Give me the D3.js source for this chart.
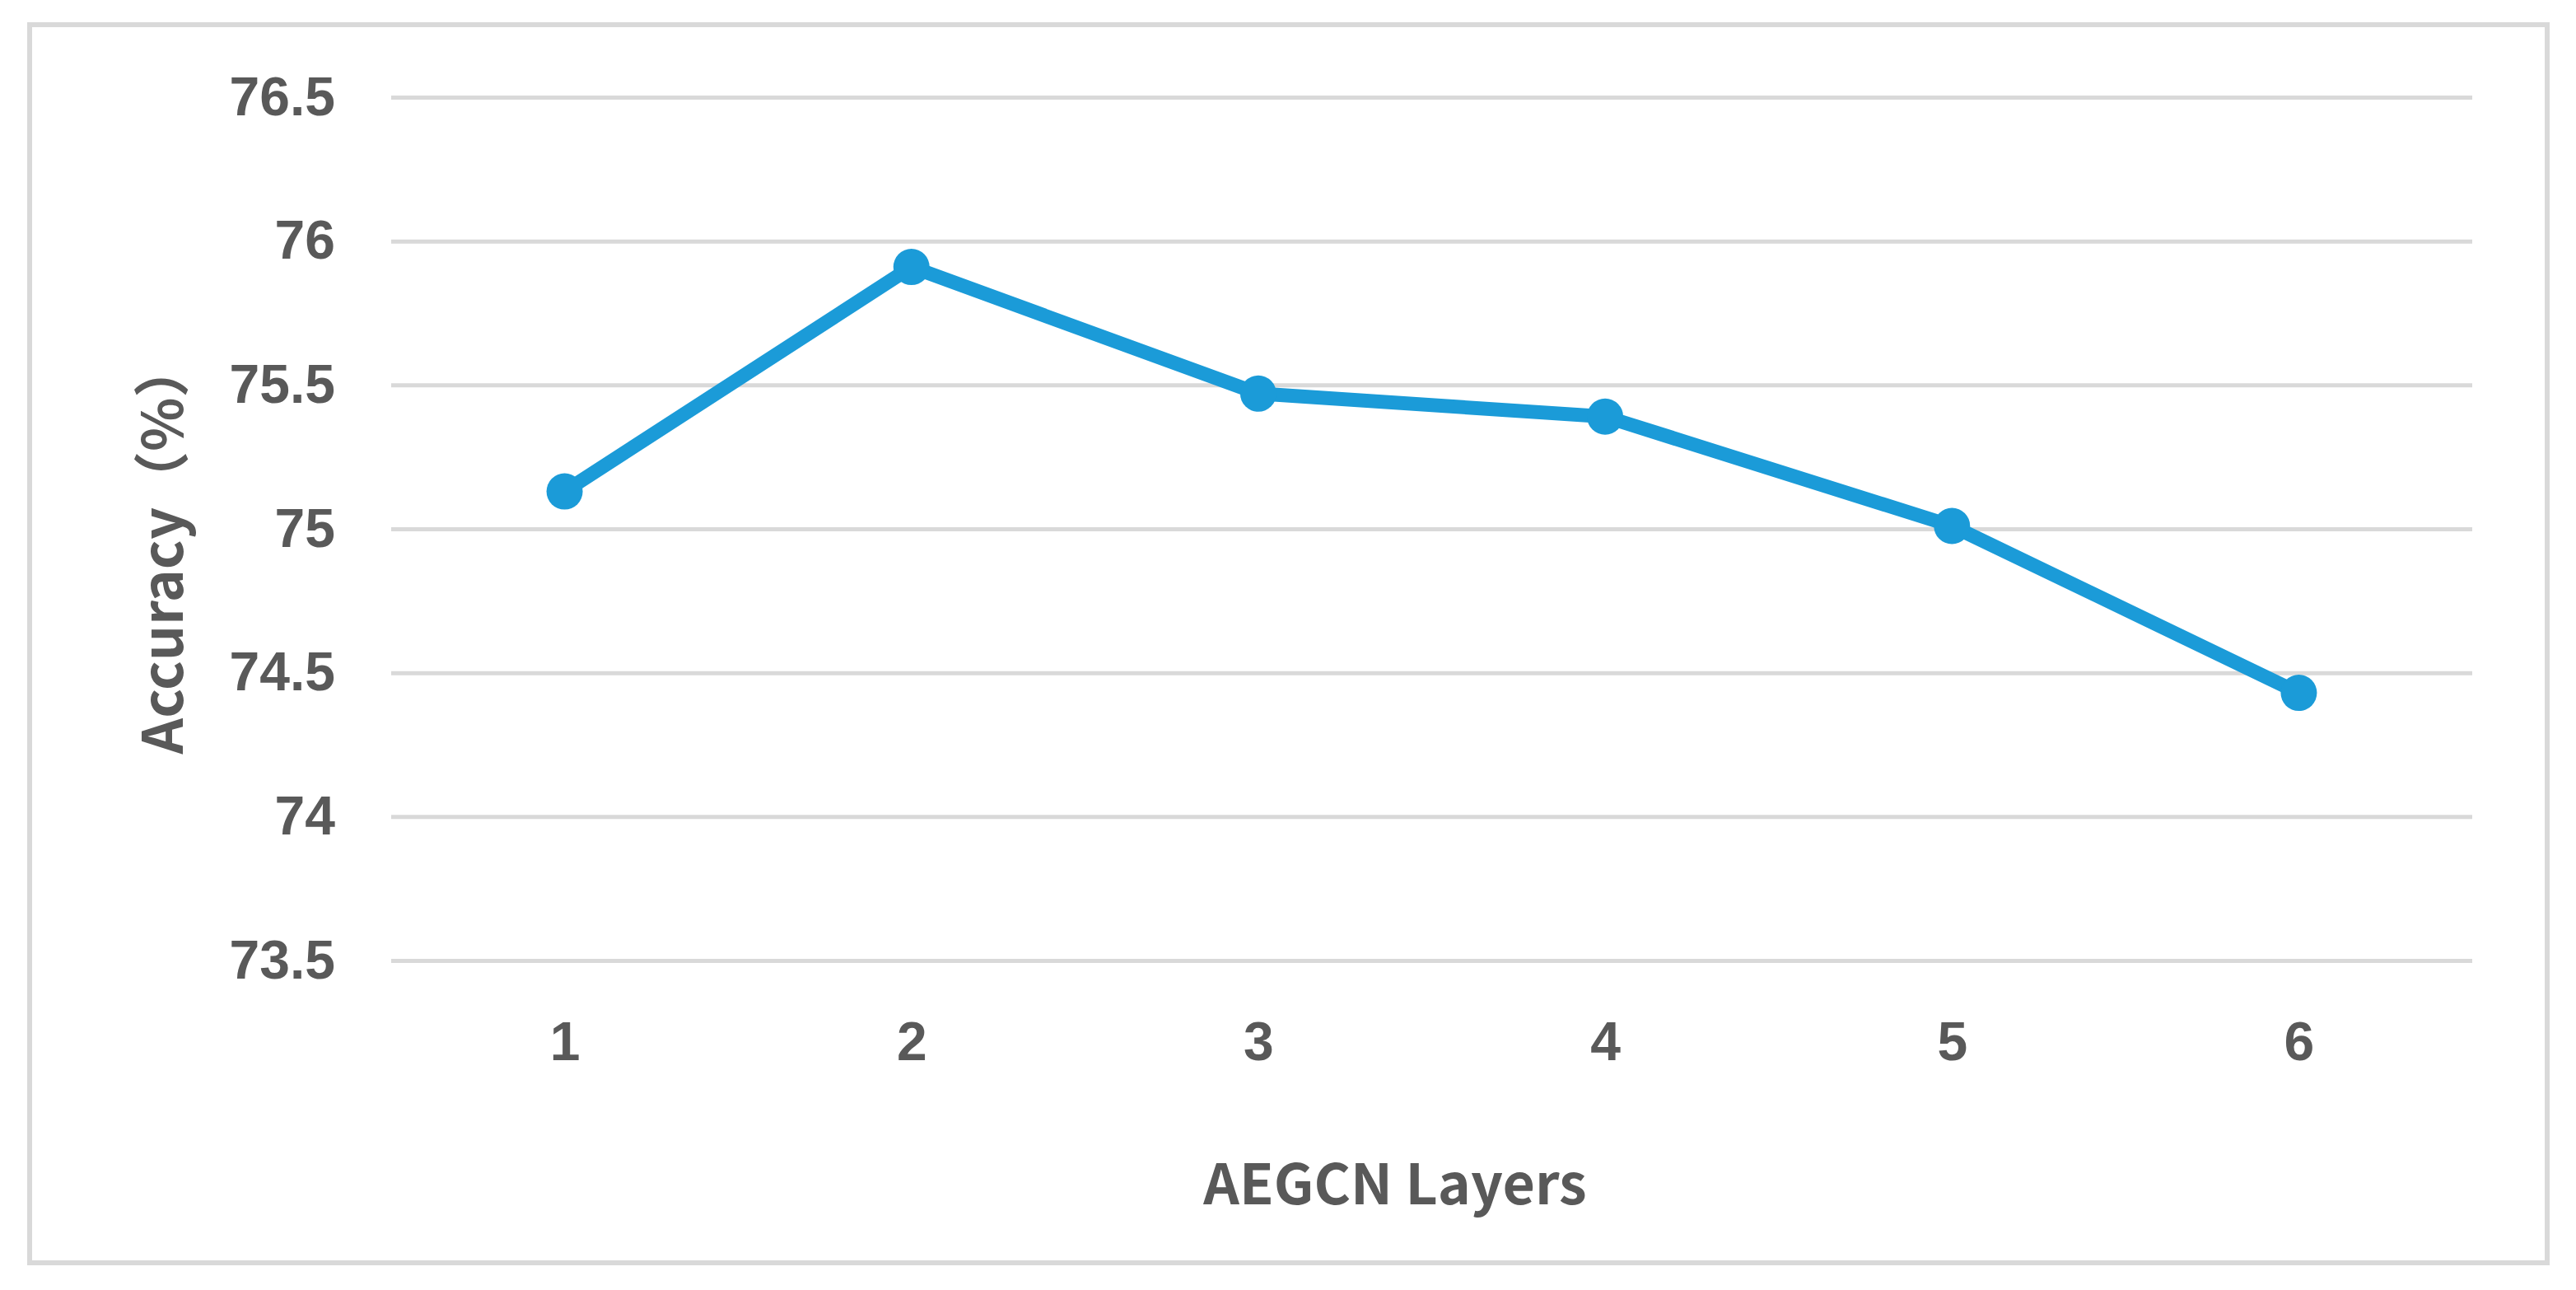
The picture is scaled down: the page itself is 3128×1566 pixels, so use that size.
<!DOCTYPE html>
<html>
<head>
<meta charset="utf-8">
<script src="https://cdn.jsdelivr.net/npm/d3@7"></script>
<style>
  html, body { margin: 0; padding: 0; background: #ffffff; }
  svg { display: block; }
</style>
</head>
<body>
<svg id="chart" width="3128" height="1566"></svg>
<script>
// ---- data ----
const layers = ["1", "2", "3", "4", "5", "6"];
const accuracy = [75.13, 75.91, 75.47, 75.39, 75.01, 74.43];
const yTickValues = [73.5, 74, 74.5, 75, 75.5, 76, 76.5];
const yTickLabels = ["73.5", "74", "74.5", "75", "75.5", "76", "76.5"];
const xTitle = "AEGCN Layers";
const yTitle = "Accuracy（%）";

// ---- layout ----
const plot = { left: 475, right: 3002, top: 118, bottom: 1166 };
const textColor = "#595959";
const gridColor = "#d9d9d9";
const lineColor = "#1b9bd8";

const svg = d3.select("#chart");

svg.append("rect")
  .attr("x", 36).attr("y", 30)
  .attr("width", 3057).attr("height", 1503)
  .attr("fill", "#ffffff")
  .attr("stroke", gridColor)
  .attr("stroke-width", 6);

const x = d3.scalePoint().domain(layers).range([plot.left, plot.right]).padding(0.5);
const y = d3.scaleLinear().domain([73.5, 76.5]).range([plot.bottom, plot.top]);

// y axis with gridlines
const yAxis = d3.axisLeft(y)
  .tickValues(yTickValues)
  .tickFormat((d, i) => yTickLabels[i])
  .tickSize(-(plot.right - plot.left))
  .tickPadding(68);

const gy = svg.append("g")
  .attr("transform", `translate(${plot.left},0)`)
  .call(yAxis);
gy.select(".domain").remove();
gy.selectAll(".tick line")
  .attr("stroke", gridColor)
  .attr("stroke-width", 5);
gy.selectAll(".tick text")
  .attr("fill", textColor)
  .style("font-family", "'Liberation Sans', Arial, sans-serif")
  .style("font-weight", "bold")
  .style("font-size", "66px");

// x axis labels
const xAxis = d3.axisBottom(x).tickSize(0).tickPadding(0);
const gx = svg.append("g")
  .attr("transform", `translate(0,${plot.bottom})`)
  .call(xAxis);
gx.select(".domain").remove();
gx.selectAll(".tick text")
  .attr("y", 97)
  .attr("dy", "0.36em")
  .attr("fill", textColor)
  .style("font-family", "'Liberation Sans', Arial, sans-serif")
  .style("font-weight", "bold")
  .style("font-size", "66px");

// line
const line = d3.line()
  .x((d, i) => x(layers[i]))
  .y(d => y(d));

svg.append("path")
  .datum(accuracy)
  .attr("d", line)
  .attr("fill", "none")
  .attr("stroke", lineColor)
  .attr("stroke-width", 17)
  .attr("stroke-linejoin", "round");

svg.append("g")
  .selectAll("circle")
  .data(accuracy)
  .join("circle")
  .attr("cx", (d, i) => x(layers[i]))
  .attr("cy", d => y(d))
  .attr("r", 22)
  .attr("fill", lineColor);

// axis titles
svg.append("text")
  .attr("x", 1694)
  .attr("y", 1462)
  .attr("text-anchor", "middle")
  .attr("fill", textColor)
  .style("font-family", "'Noto Sans CJK SC', 'Noto Sans', sans-serif")
  .style("font-weight", "bold")
  .style("font-size", "68px")
  .text(xTitle);

svg.append("text")
  .attr("transform", "translate(222,665) rotate(-90)")
  .attr("text-anchor", "middle")
  .attr("fill", textColor)
  .style("font-family", "'Noto Sans CJK SC', 'Noto Sans', sans-serif")
  .style("font-weight", "bold")
  .style("font-size", "68px")
  .text(yTitle);
</script>
</body>
</html>
